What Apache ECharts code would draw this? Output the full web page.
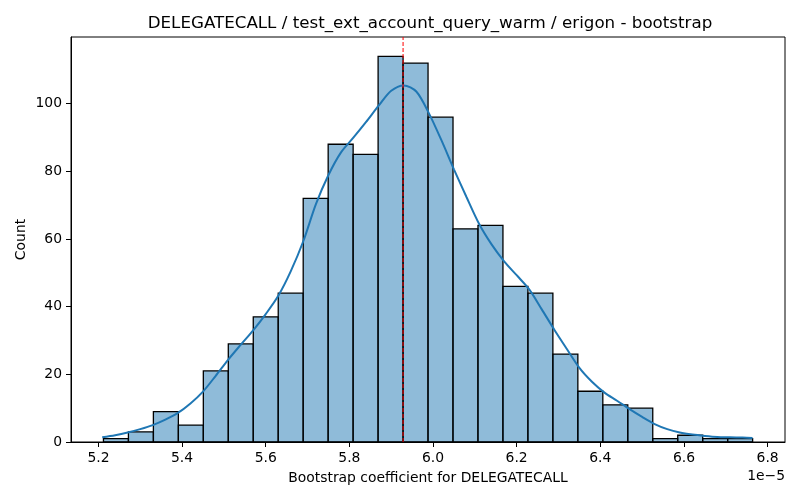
<!DOCTYPE html>
<html>
<head>
<meta charset="utf-8">
<script src="https://cdn.jsdelivr.net/npm/echarts/dist/echarts.min.js"></script>
<style>html,body{margin:0;padding:0;background:#fff;}#c{width:800px;height:500px;}</style>
</head>
<body>
<div id="c"></div>
<script>
const titleText = 'DELEGATECALL / test_ext_account_query_warm / erigon - bootstrap';
const xLabel = 'Bootstrap coefficient for DELEGATECALL';
const yLabel = 'Count';
const offsetText = '1e\u22125';
const binEdges = [5.212, 5.2717, 5.3314, 5.3911, 5.4508, 5.5105, 5.5702, 5.6299, 5.6896, 5.7493, 5.809, 5.8687, 5.9284, 5.9881, 6.0478, 6.1075, 6.1672, 6.2269, 6.2866, 6.3463, 6.406, 6.4657, 6.5254, 6.5851, 6.6448, 6.7045, 6.7642];
const counts = [1, 3, 9, 5, 21, 29, 37, 44, 72, 88, 85, 114, 112, 96, 63, 64, 46, 44, 26, 15, 11, 10, 1, 2, 1, 1];
const kdeX = [5.209, 5.24, 5.27, 5.30, 5.33, 5.36, 5.39, 5.42, 5.45, 5.48, 5.51, 5.54, 5.57, 5.60, 5.63, 5.66, 5.69, 5.72, 5.75, 5.78, 5.81, 5.84, 5.87, 5.90, 5.93, 5.96, 5.99, 6.02, 6.05, 6.08, 6.11, 6.14, 6.17, 6.20, 6.23, 6.26, 6.29, 6.32, 6.35, 6.38, 6.41, 6.44, 6.47, 6.50, 6.53, 6.56, 6.59, 6.62, 6.65, 6.68, 6.71, 6.74, 6.764];
const kdeY = [1.4, 2.0, 2.8, 3.8, 5.0, 6.6, 8.6, 11.4, 14.9, 19.5, 24.3, 28.7, 33.0, 37.8, 43.2, 50.5, 59.4, 70.3, 78.9, 85.6, 90.0, 94.6, 99.4, 103.8, 105.4, 103.6, 97.2, 89.2, 80.6, 72.4, 64.5, 58.4, 53.4, 49.3, 45.1, 39.2, 33.2, 27.5, 21.9, 17.8, 14.6, 12.2, 9.7, 7.4, 5.3, 3.8, 2.8, 2.2, 1.8, 1.5, 1.4, 1.3, 1.2];
const refLine = 5.9284;
const xTicks = [5.2, 5.4, 5.6, 5.8, 6.0, 6.2, 6.4, 6.6, 6.8];
const yTicks = [0, 20, 40, 60, 80, 100];
const xMin = 5.1344, xMax = 6.8416, yMax = 119.7;

const font = 'DejaVu Sans';
const histData = counts.map((c, i) => [binEdges[i], binEdges[i + 1], c]);
const kdeData = kdeX.map((x, i) => [x, kdeY[i]]);
const refData = [[refLine, 0], [refLine, yMax]];

const chart = echarts.init(document.getElementById('c'), null, {renderer: 'canvas'});
chart.setOption({
  animation: false,
  backgroundColor: '#fff',
  title: {
    text: titleText, left: 425, top: 10, textAlign: 'center',
    textStyle: {fontFamily: font, fontSize: 16.7, fontWeight: 'normal', color: '#000'}
  },
  grid: {left: 71, right: 15, top: 37, bottom: 58, show: true, borderColor: '#000', borderWidth: 1, backgroundColor: 'transparent'},
  xAxis: {
    type: 'value', min: xMin, max: xMax,
    name: xLabel, nameLocation: 'middle', nameGap: 29, nameMoveOverlap: false,
    nameTextStyle: {fontFamily: font, fontSize: 13.9, color: '#000'},
    axisLine: {show: true, onZero: false, lineStyle: {color: '#000', width: 1}},
    axisTick: {show: true, length: 5, customValues: xTicks, lineStyle: {color: '#000'}},
    axisLabel: {customValues: xTicks, margin: 9, fontFamily: font, fontSize: 13.9, color: '#000', formatter: v => v.toFixed(1)},
    splitLine: {show: false}
  },
  yAxis: {
    type: 'value', min: 0, max: yMax,
    name: yLabel, nameLocation: 'middle', nameGap: 43, nameMoveOverlap: false,
    nameTextStyle: {fontFamily: font, fontSize: 13.9, color: '#000'},
    axisLine: {show: true, lineStyle: {color: '#000', width: 1}},
    axisTick: {show: true, length: 5, customValues: yTicks, lineStyle: {color: '#000'}},
    axisLabel: {customValues: yTicks, margin: 9, fontFamily: font, fontSize: 13.9, color: '#000'},
    splitLine: {show: false}
  },
  graphic: [{
    type: 'text', right: 15, top: 469,
    style: {text: offsetText, fontFamily: font, fontSize: 13.9, fill: '#000', textAlign: 'right'}
  }],
  series: [
    {
      type: 'custom', z: 2,
      renderItem: function (params, api) {
        const p0 = api.coord([api.value(0), 0]);
        const p1 = api.coord([api.value(1), api.value(2)]);
        return {
          type: 'rect',
          shape: {x: p0[0], y: p1[1], width: p1[0] - p0[0], height: p0[1] - p1[1]},
          style: {fill: 'rgba(31,119,180,0.5)', stroke: '#000', lineWidth: 1.3}
        };
      },
      encode: {x: [0, 1], y: 2},
      data: histData
    },
    {
      type: 'line', z: 3, data: kdeData, smooth: 0.3, showSymbol: false,
      lineStyle: {color: '#1f77b4', width: 2}
    },
    {
      type: 'line', z: 4, data: refData, showSymbol: false,
      lineStyle: {color: '#ff0000', width: 1, type: [4, 2]}
    }
  ]
});
</script>
</body>
</html>
